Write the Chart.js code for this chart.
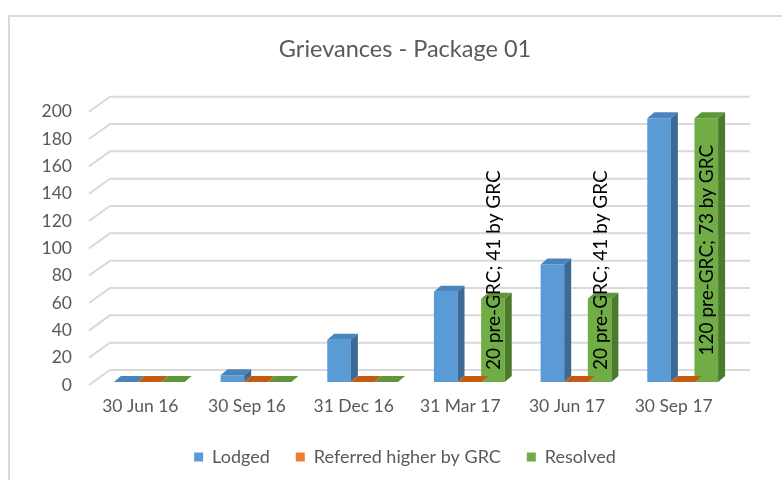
<!DOCTYPE html>
<html>
  <head>
    <title>Grievances - Package 01</title>
    <script src="https://cdn.jsdelivr.net/npm/chart.js"></script>
    <style>
      html, body { margin: 0; padding: 0; background: #fff; }
      #wrap { position: relative; width: 782px; height: 480px; overflow: hidden; }
      #frame {
        position: absolute; left: 8px; top: 15px; width: 900px; height: 600px;
        border-top: 2px solid #d9d9d9; border-left: 2px solid #d9d9d9;
      }
      #myChart { position: absolute; left: 0; top: 0; }
    </style>
  </head>
  <body>
    <div id="wrap">
      <div id="frame"></div>
      <canvas id="myChart" width="782" height="480"></canvas>
    </div>

    <script>
      // data
      const quarters = ["30 Jun 16", "30 Sep 16", "31 Dec 16", "31 Mar 17", "30 Jun 17", "30 Sep 17"];
      const lodged = [0, 5, 31, 66, 86, 193];
      const referred = [0, 0, 0, 0, 0, 0];
      const resolved = [0, 0, 0, 61, 61, 193];
      const resolvedNotes = ["", "", "", "20 pre-GRC; 41 by GRC", "20 pre-GRC; 41 by GRC", "120 pre-GRC; 73 by GRC"];
      const yTicks = [0, 20, 40, 60, 80, 100, 120, 140, 160, 180, 200];

      const FONT = "Lato";
      const GREY = "#595959";

      // front, side, top colours
      const shades = [
        ["#5b9bd5", "#3c6a94", "#4a84bf"],
        ["#ed7d31", "#a9561f", "#c55a11"],
        ["#70ad47", "#4b7a2c", "#5e9739"],
      ];

      const DX = 7, DY = 6; // bar depth
      const WX = 21, WY = 15; // back wall depth

      // fake 3D: back wall grid, bar sides and tops, rotated notes
      const threeD = {
        id: "threeD",
        beforeDatasetsDraw(chart) {
          const { ctx, chartArea, scales } = chart;
          const x0 = chartArea.left - 7;
          ctx.save();
          ctx.strokeStyle = "#d9d9d9";
          ctx.lineWidth = 2;
          yTicks.forEach((v) => {
            const py = scales.y.getPixelForValue(v) + 3;
            ctx.beginPath();
            ctx.moveTo(x0, py);
            ctx.lineTo(x0 + WX, py - WY);
            ctx.lineTo(chartArea.right + 14, py - WY);
            ctx.stroke();
          });
          ctx.restore();
        },
        afterDatasetsDraw(chart) {
          const ctx = chart.ctx;
          ctx.save();
          chart.data.datasets.forEach((ds, di) => {
            const [, side, top] = shades[di];
            chart.getDatasetMeta(di).data.forEach((bar) => {
              const l = bar.x - bar.width / 2;
              const r = bar.x + bar.width / 2;
              ctx.fillStyle = top;
              ctx.beginPath();
              ctx.moveTo(l, bar.y);
              ctx.lineTo(r, bar.y);
              ctx.lineTo(r + DX, bar.y - DY);
              ctx.lineTo(l + DX, bar.y - DY);
              ctx.closePath();
              ctx.fill();
              if (bar.base - bar.y > 0.5) {
                ctx.fillStyle = side;
                ctx.beginPath();
                ctx.moveTo(r, bar.y);
                ctx.lineTo(r, bar.base);
                ctx.lineTo(r + DX, bar.base - DY);
                ctx.lineTo(r + DX, bar.y - DY);
                ctx.closePath();
                ctx.fill();
              }
            });
          });

          ctx.font = "19px " + FONT;
          ctx.fillStyle = "#000";
          ctx.textAlign = "center";
          ctx.textBaseline = "middle";
          chart.getDatasetMeta(2).data.forEach((bar, i) => {
            const txt = resolvedNotes[i];
            if (!txt) return;
            const w = ctx.measureText(txt).width;
            const cy = Math.min((bar.y + bar.base) / 2, bar.base - 12 - w / 2);
            ctx.save();
            ctx.translate(bar.x + 1, cy);
            ctx.rotate(-Math.PI / 2);
            ctx.fillText(txt, 0, 0);
            ctx.restore();
          });
          ctx.restore();
        },
      };

      const ctx = document.getElementById("myChart").getContext("2d");
      new Chart(ctx, {
        type: "bar",
        data: {
          labels: quarters,
          datasets: [
            { label: "Lodged", data: lodged, backgroundColor: shades[0][0] },
            { label: "Referred higher by GRC", data: referred, backgroundColor: shades[1][0] },
            { label: "Resolved", data: resolved, backgroundColor: shades[2][0] },
          ],
        },
        options: {
          responsive: false,
          animation: false,
          events: [],
          categoryPercentage: 0.664,
          barPercentage: 1,
          layout: { padding: { left: 28, top: 0, right: 0, bottom: 4 } },
          plugins: {
            tooltip: { enabled: false },
            title: {
              display: true,
              text: "Grievances - Package 01",
              color: GREY,
              font: { family: FONT, size: 23.5, weight: "normal" },
              padding: { top: 35, bottom: 45.5 },
            },
            legend: {
              position: "bottom",
              labels: {
                color: GREY,
                font: { family: FONT, size: 18 },
                boxWidth: 9,
                boxHeight: 9,
                padding: 26,
              },
            },
          },
          scales: {
            x: {
              grid: { display: false, drawTicks: false },
              border: { display: false },
              ticks: { color: GREY, font: { family: FONT, size: 17.5 }, padding: 14, labelOffset: -9, maxRotation: 0 },
              afterFit(s) { s.height = 40; },
            },
            y: {
              min: 0,
              max: 200,
              grid: { display: false, drawTicks: false },
              border: { display: false },
              ticks: { stepSize: 20, color: GREY, font: { family: FONT, size: 17.5 }, padding: 24, labelOffset: 3 },
              afterFit(s) { s.width = 68; },
            },
            y2: {
              position: "right",
              grid: { display: false, drawTicks: false },
              border: { display: false },
              ticks: { display: false },
              afterFit(s) { s.width = 46; },
            },
          },
        },
        plugins: [threeD],
      });
    </script>
  </body>
</html>
